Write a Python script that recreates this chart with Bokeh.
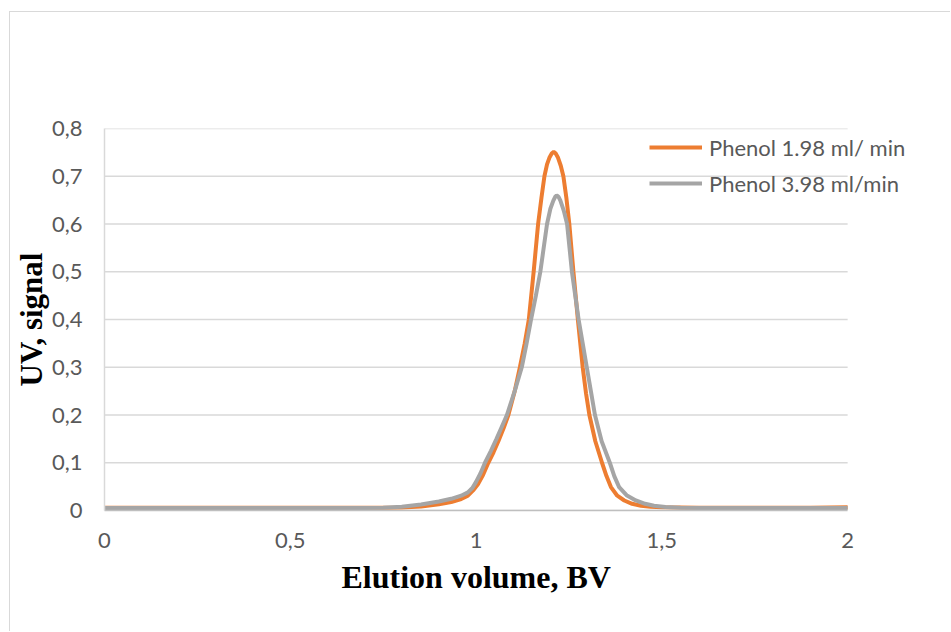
from bokeh.plotting import figure
from bokeh.models import Legend, LegendItem, FixedTicker, Range1d, Title
from bokeh.embed import file_html
from bokeh.resources import INLINE

# ---- data ----
orange_x = [0.0, 0.1, 0.2, 0.3, 0.4, 0.5, 0.6, 0.7, 0.75, 0.8, 0.852, 0.9, 0.933, 0.96, 0.978,
            0.992, 1.005, 1.019, 1.033, 1.047, 1.06, 1.074, 1.087, 1.104, 1.118, 1.131, 1.142,
            1.155, 1.167, 1.176, 1.184, 1.191, 1.198, 1.204, 1.209, 1.214, 1.220, 1.228, 1.235,
            1.243, 1.251, 1.262, 1.274, 1.287, 1.296, 1.305, 1.321, 1.339, 1.351, 1.363, 1.38,
            1.399, 1.42, 1.444, 1.47, 1.5, 1.6, 1.7, 1.8, 1.9, 2.0]
orange_y = [0.006, 0.006, 0.006, 0.006, 0.006, 0.006, 0.006, 0.006, 0.006, 0.0065, 0.0084, 0.013,
            0.0175, 0.024, 0.031, 0.042, 0.055, 0.075, 0.1, 0.122, 0.145, 0.172, 0.2, 0.25, 0.3,
            0.35, 0.4, 0.5, 0.6, 0.655, 0.7, 0.725, 0.74, 0.748, 0.751, 0.748, 0.74, 0.722, 0.7,
            0.655, 0.6, 0.5, 0.4, 0.3, 0.245, 0.2, 0.145, 0.1, 0.072, 0.049, 0.031, 0.021, 0.014,
            0.01, 0.008, 0.007, 0.006, 0.006, 0.006, 0.006, 0.007]

gray_x = [0.0, 0.1, 0.2, 0.3, 0.4, 0.5, 0.6, 0.7, 0.75, 0.8, 0.852, 0.9, 0.933, 0.96, 0.978,
          0.99, 1.0, 1.012, 1.024, 1.04, 1.055, 1.069, 1.083, 1.104, 1.123, 1.136, 1.148, 1.161,
          1.173, 1.191, 1.200, 1.208, 1.213, 1.217, 1.222, 1.227, 1.236, 1.245, 1.258, 1.267,
          1.276, 1.287, 1.298, 1.309, 1.320, 1.338, 1.360, 1.372, 1.385, 1.405, 1.430, 1.455,
          1.479, 1.51, 1.55, 1.6, 1.7, 1.8, 1.9, 2.0]
gray_y = [0.005, 0.005, 0.005, 0.005, 0.005, 0.005, 0.005, 0.005, 0.006, 0.008, 0.0126, 0.019,
          0.0245, 0.031, 0.038, 0.047, 0.06, 0.078, 0.1, 0.125, 0.15, 0.175, 0.2, 0.25, 0.3, 0.35,
          0.4, 0.45, 0.5, 0.6, 0.632, 0.649, 0.657, 0.66, 0.657, 0.649, 0.628, 0.6, 0.5, 0.45,
          0.4, 0.35, 0.3, 0.25, 0.2, 0.145, 0.1, 0.072, 0.049, 0.032, 0.021, 0.014, 0.01, 0.0075,
          0.006, 0.005, 0.005, 0.005, 0.005, 0.005]

series_names = ["Phenol 1.98 ml/ min", "Phenol 3.98 ml/min"]
x_ticks = [0, 0.5, 1, 1.5, 2]
x_tick_labels = ["0", "0,5", "1", "1,5", "2"]
y_ticks = [0, 0.1, 0.2, 0.3, 0.4, 0.5, 0.6, 0.7, 0.8]
y_tick_labels = ["0", "0,1", "0,2", "0,3", "0,4", "0,5", "0,6", "0,7", "0,8"]
x_title = "Elution volume, BV"
y_title = "UV, signal"

ORANGE = "#ED7D31"
GRAY = "#A5A5A5"
GRID = "#D9D9D9"
TICK_FONT = "Lato"
TITLE_FONT = "Liberation Serif"

x_min, x_max = x_ticks[0], x_ticks[-1]
# the frame runs on past x = 2 so that the legend text is not cut at the frame edge
p = figure(width=941, height=620, output_backend="svg", toolbar_location=None,
           x_range=Range1d(x_min, x_max * 848 / 744), y_range=Range1d(y_ticks[0], y_ticks[-1]),
           min_border_left=93, min_border_right=0, min_border_top=116, min_border_bottom=122)
p.styles = {"margin-left": "9px", "margin-top": "11px",
            "border-left": "1px solid #d9d9d9", "border-top": "1px solid #d9d9d9"}
p.outline_line_color = None
p.background_fill_color = "white"
p.border_fill_color = "white"

p.xgrid.grid_line_color = None
p.ygrid.grid_line_color = None
p.segment(x0=[x_min] * len(y_ticks), x1=[x_max] * len(y_ticks), y0=y_ticks, y1=y_ticks,
          line_color=GRID, line_width=1.5, level="underlay")

p.xaxis.ticker = FixedTicker(ticks=x_ticks)
p.yaxis.ticker = FixedTicker(ticks=y_ticks)
p.xaxis.major_label_overrides = {t: l for t, l in zip(x_ticks, x_tick_labels)}
p.yaxis.major_label_overrides = {t: l for t, l in zip(y_ticks, y_tick_labels)}
for ax in (p.xaxis, p.yaxis):
    ax.major_tick_line_color = None
    ax.minor_tick_line_color = None
    ax.major_tick_in = 0
    ax.major_tick_out = 0
    ax.major_label_text_font = TICK_FONT
    ax.major_label_text_font_size = "22px"
    ax.major_label_text_color = "#595959"
p.xaxis.bounds = (x_min, x_max)
p.xaxis.axis_line_color = "#BFBFBF"
p.xaxis.axis_line_width = 1.5
p.yaxis.axis_line_color = GRID
p.yaxis.axis_line_width = 1.5
p.xaxis.major_label_standoff = 22
p.yaxis.major_label_standoff = 22
p.yaxis.axis_label = y_title
p.yaxis.axis_label_text_font = TITLE_FONT
p.yaxis.axis_label_text_font_style = "bold"
p.yaxis.axis_label_text_font_size = "31px"
p.yaxis.axis_label_text_color = "black"
p.yaxis.axis_label_standoff = 0

# x title placed under the x = 0..2 span (the frame is wider), moved with offset
p.add_layout(Title(text=x_title, align="left", offset=237, standoff=13,
                   text_font=TITLE_FONT, text_font_style="bold", text_font_size="32px",
                   text_color="black"), "below")

r1 = p.line(orange_x, orange_y, line_color=ORANGE, line_width=4)
r2 = p.line(gray_x, gray_y, line_color=GRAY, line_width=4)

legend = Legend(items=[LegendItem(label=series_names[0], renderers=[r1]),
                       LegendItem(label=series_names[1], renderers=[r2])],
                location=(545, 309), padding=0, margin=0, spacing=0,
                glyph_width=53, glyph_height=36, label_height=36, label_standoff=7,
                label_text_font=TICK_FONT, label_text_font_size="22px",
                label_text_color="#595959",
                background_fill_alpha=0, border_line_color=None)
p.add_layout(legend)

open("out.html", "w").write(file_html(p, INLINE))
